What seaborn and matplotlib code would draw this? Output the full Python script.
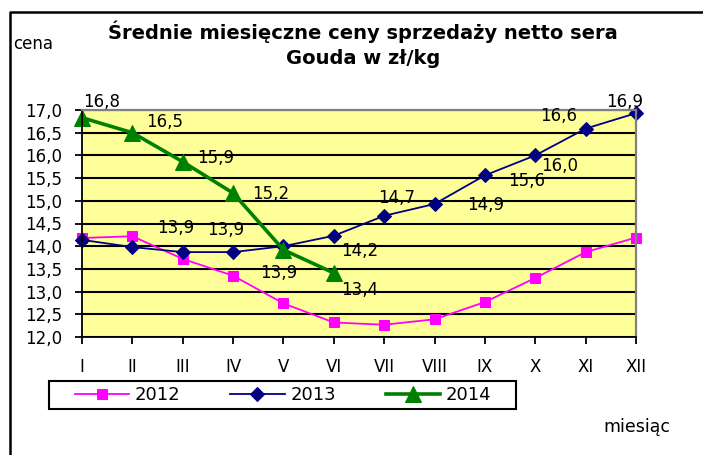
import seaborn as sns
import pandas as pd
import numpy as np
import matplotlib
matplotlib.use("Agg")
import matplotlib.pyplot as plt
from matplotlib.patches import Rectangle
from matplotlib.lines import Line2D

# -----------------------------
# DATA
# -----------------------------
months = ["I", "II", "III", "IV", "V", "VI", "VII", "VIII", "IX", "X", "XI", "XII"]
ceny_2012 = [14.18, 14.22, 13.72, 13.35, 12.74, 12.32, 12.27, 12.39, 12.77, 13.30, 13.87, 14.19]
ceny_2013 = [14.14, 13.98, 13.87, 13.87, 14.00, 14.23, 14.67, 14.93, 15.56, 16.00, 16.59, 16.93]
ceny_2014 = [16.83, 16.50, 15.86, 15.17, 13.92, 13.41]

# which points carry a value label
labelled_2013 = ["III", "IV", "VI", "VII", "VIII", "IX", "X", "XI", "XII"]
labelled_2014 = ["I", "II", "III", "IV", "V", "VI"]

# label offsets in pixels (dx, dy) from each point
offsets_2013 = [(-7, 24), (-7, 22), (26, -15), (12, 18), (51, -1), (42, -6), (24, -11), (-27, 13), (-11, 11)]
offsets_2014 = [(20, 16), (32, 11), (33, 4), (38, -1), (-5, -23), (26, -17)]

df12 = pd.DataFrame({"m": range(len(ceny_2012)), "cena": ceny_2012})
df13 = pd.DataFrame({"m": range(len(ceny_2013)), "cena": ceny_2013})
df14 = pd.DataFrame({"m": range(len(ceny_2014)), "cena": ceny_2014})

plt.rcParams["font.family"] = ["DejaVu Sans"]

fig = plt.figure(figsize=(7.03, 4.55), dpi=100)
ax = fig.add_axes([82 / 703, 1 - 337 / 455, (636 - 82) / 703, (337 - 110) / 455])
ax.set_facecolor("#FFFF99")

# -----------------------------
# LINES
# -----------------------------
sns.lineplot(data=df12, x="m", y="cena", ax=ax, color="#FF00FF", lw=1.3,
             marker="s", markersize=7.5, markeredgecolor="#FF00FF", label="2012", clip_on=False)
sns.lineplot(data=df13, x="m", y="cena", ax=ax, color="#000080", lw=1.3,
             marker="D", markersize=7, markeredgecolor="#000080", label="2013", clip_on=False)
sns.lineplot(data=df14, x="m", y="cena", ax=ax, color="#008000", lw=2.6,
             marker="^", markersize=11.5, markeredgecolor="#008000", label="2014", clip_on=False)

# value labels
for m, (dx, dy) in zip(labelled_2013, offsets_2013):
    i = months.index(m)
    ax.annotate(f"{ceny_2013[i]:.1f}".replace(".", ","), (i, ceny_2013[i]), xytext=(dx, dy),
                textcoords="offset pixels", ha="center", va="center", fontsize=12)
for m, (dx, dy) in zip(labelled_2014, offsets_2014):
    i = months.index(m)
    ax.annotate(f"{ceny_2014[i]:.1f}".replace(".", ","), (i, ceny_2014[i]), xytext=(dx, dy),
                textcoords="offset pixels", ha="center", va="center", fontsize=12,
                annotation_clip=False)

# -----------------------------
# AXES
# -----------------------------
ax.set_xlim(0, len(months) - 1)
ax.set_ylim(12, 17)
ax.set_xticks(range(len(months)))
ax.set_xticklabels(months)
yticks = np.arange(12, 17.01, 0.5)
ax.set_yticks(yticks)
ax.set_yticklabels([f"{v:.1f}".replace(".", ",") for v in yticks])
ax.tick_params(axis="both", direction="out", length=5, width=1.3, colors="black", labelsize=12)
ax.tick_params(axis="y", pad=9)
ax.tick_params(axis="x", pad=10)
ax.set_xlabel("")
ax.set_ylabel("")

ax.set_axisbelow(True)
ax.yaxis.grid(True, color="black", lw=1.5)
ax.xaxis.grid(False)
for side in ["top", "right"]:
    ax.spines[side].set_color("#808080")
    ax.spines[side].set_linewidth(1.6)
for side in ["left", "bottom"]:
    ax.spines[side].set_color("black")
    ax.spines[side].set_linewidth(1.3)

# legend at the bottom, inside a drawn box
handles, labels = ax.get_legend_handles_labels()
ax.get_legend().remove()
fig.legend(handles, labels, ncol=3, frameon=False, fontsize=13,
           loc="center left", bbox_to_anchor=(75 / 703, 1 - 395 / 455),
           borderpad=0, borderaxespad=0, handlelength=3.0, handletextpad=0.33,
           columnspacing=2.75)
fig.patches.append(Rectangle((49 / 703, 1 - 409 / 455), (516 - 49) / 703, 28 / 455,
                             transform=fig.transFigure, fill=False, edgecolor="black", lw=1.5))

# outer frame (only top and left edges fall inside the picture)
fig.add_artist(Line2D([10 / 703, 10 / 703, 1.0], [0.0, 1 - 12 / 455, 1 - 12 / 455],
                      transform=fig.transFigure, color="black", lw=1.8,
                      solid_capstyle="butt"))

# -----------------------------
# TEXTS
# -----------------------------
fig.text(363 / 703, 1 - 44 / 455, "Średnie miesięczne ceny sprzedaży netto sera\nGouda w zł/kg",
         ha="center", va="center", fontsize=14, fontweight="bold", linespacing=1.4)
fig.text(13 / 703, 1 - 44 / 455, "cena", ha="left", va="center", fontsize=12)
fig.text(603 / 703, 1 - 427 / 455, "miesiąc", ha="left", va="center", fontsize=12.5)

fig.savefig("out.png", dpi=100)
